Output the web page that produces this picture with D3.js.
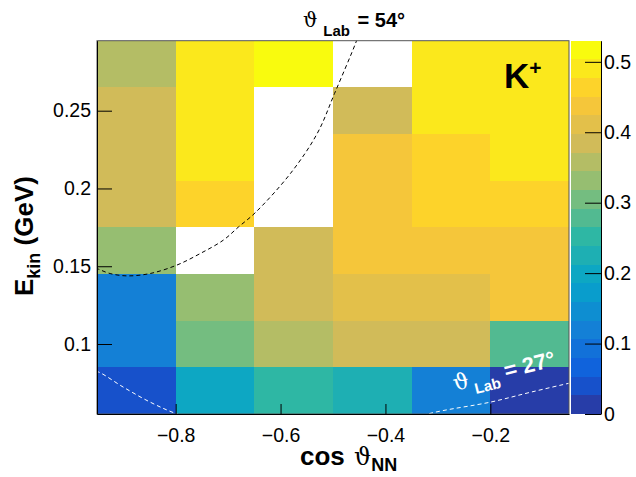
<!DOCTYPE html>
<html>
<head>
<meta charset="utf-8">
<script src="https://cdnjs.cloudflare.com/ajax/libs/d3/7.8.5/d3.min.js"></script>
<style>
body { margin: 0; background: #fff; }
svg { display: block; font-family: "Liberation Sans", Arial, sans-serif; }
</style>
</head>
<body>
<svg id="chart" width="636" height="477"></svg>
<script>
// bin edges
var xEdges = [-0.95, -0.8, -0.65, -0.5, -0.35, -0.2, -0.05];
var yEdges = [0.055, 0.085, 0.115, 0.145, 0.175, 0.205, 0.235, 0.265, 0.295];

// cell values, one array per E_kin row (bottom to top), null = empty bin
var row0 = [0.04, 0.20, 0.25, 0.225, 0.12, 0.015];
var row1 = [0.12, 0.305, 0.36, 0.385, 0.385, 0.28];
var row2 = [0.12, 0.33, 0.385, 0.41, 0.41, 0.437];
var row3 = [0.33, null, 0.385, 0.437, 0.437, 0.437];
var row4 = [0.385, 0.463, null, 0.437, 0.463, 0.463];
var row5 = [0.385, 0.49, null, 0.437, 0.463, 0.49];
var row6 = [0.385, 0.49, null, 0.385, 0.49, 0.49];
var row7 = [0.36, 0.49, 0.515, null, 0.49, 0.49];
var rows = [row0, row1, row2, row3, row4, row5, row6, row7];

var xTicks = [-0.8, -0.6, -0.4, -0.2];
var yTicks = [0.1, 0.15, 0.2, 0.25];
var zTicks = [0, 0.1, 0.2, 0.3, 0.4, 0.5];
var zMax = 0.53, nLevels = 20;

// constant lab angle lines, [cos, Ekin]
var curve54 = [[-0.965, 0.1505], [-0.947, 0.1481], [-0.925, 0.1453], [-0.893, 0.1438], [-0.849, 0.1453],
  [-0.798, 0.1507], [-0.753, 0.1582], [-0.709, 0.1668], [-0.68, 0.1753], [-0.648, 0.1845],
  [-0.581, 0.2097], [-0.53, 0.2354], [-0.497, 0.2611], [-0.457, 0.2933], [-0.45, 0.30]];
var curve27 = [[-0.965, 0.0835], [-0.947, 0.082], [-0.9, 0.0723], [-0.849, 0.0627], [-0.799, 0.0552],
  [-0.72, 0.047], [-0.6, 0.041], [-0.5, 0.040], [-0.4, 0.046], [-0.317, 0.0552],
  [-0.199, 0.0627], [-0.122, 0.0691], [-0.047, 0.075], [-0.03, 0.0762]];

// ROOT kBird palette
var birdStops = [0, 0.125, 0.25, 0.375, 0.5, 0.625, 0.75, 0.875, 1];
var birdR = [0.2082, 0.0592, 0.0780, 0.0232, 0.1802, 0.5301, 0.8186, 0.9956, 0.9764];
var birdG = [0.1664, 0.3599, 0.5041, 0.6419, 0.7178, 0.7492, 0.7328, 0.7862, 0.9832];
var birdB = [0.5293, 0.8684, 0.8385, 0.7914, 0.6425, 0.4662, 0.3499, 0.1968, 0.0539];

var birdColor = function(t) {
  var k = Math.min(7, Math.floor(t / 0.125));
  var f = (t - birdStops[k]) / 0.125;
  var c = function(a) { return Math.round(255 * (a[k] + f * (a[k + 1] - a[k]))); };
  return d3.rgb(c(birdR), c(birdG), c(birdB)).toString();
}

var levelColor = function(i) {
  var t = Math.floor((i + 0.99) * 255 / nLevels) / 254;
  return birdColor(t);
}

var valueColor = function(v) {
  var i = Math.min(nLevels - 1, Math.floor(v / zMax * nLevels));
  return levelColor(i);
}

var svg = d3.select("#chart");
var x = d3.scaleLinear().domain([-0.95, -0.05]).range([97, 569]);
var y = d3.scaleLinear().domain([0.055, 0.295]).range([414, 40.7]);
var z = d3.scaleLinear().domain([0, zMax]).range([414, 40.7]);

svg.append("defs").append("clipPath").attr("id", "plotclip")
  .append("rect").attr("x", 97).attr("y", 40.7).attr("width", 472).attr("height", 373.3);

// cells
var cells = [];
rows.forEach(function(r, ri) {
  r.forEach(function(v, ci) {
    if (v !== null) cells.push({r: ri, c: ci, v: v});
  });
});
svg.append("g").selectAll("rect").data(cells).enter().append("rect")
  .attr("x", function(d) { return x(xEdges[d.c]); })
  .attr("y", function(d) { return y(yEdges[d.r + 1]); })
  .attr("width", function(d) { return x(xEdges[d.c + 1]) - x(xEdges[d.c]); })
  .attr("height", function(d) { return y(yEdges[d.r]) - y(yEdges[d.r + 1]); })
  .attr("fill", function(d) { return valueColor(d.v); })
  .attr("shape-rendering", "crispEdges");

// kinematic lines
var line = d3.line().x(function(d) { return x(d[0]); }).y(function(d) { return y(d[1]); })
  .curve(d3.curveCatmullRom);
var lines = svg.append("g").attr("clip-path", "url(#plotclip)");
lines.append("path").attr("d", line(curve54)).attr("fill", "none")
  .attr("stroke", "#000").attr("stroke-width", 1).attr("stroke-dasharray", "4,3");
lines.append("path").attr("d", line(curve27)).attr("fill", "none")
  .attr("stroke", "#fff").attr("stroke-width", 1).attr("stroke-dasharray", "4,3");

// frame
svg.append("rect").attr("x", 97).attr("y", 40.7).attr("width", 472).attr("height", 373.3)
  .attr("fill", "none").attr("stroke", "#555").attr("stroke-width", 1);

// axes
var xAxis = svg.append("g").attr("transform", "translate(0,414)")
  .call(d3.axisBottom(x).tickValues(xTicks).tickSizeInner(-10).tickSizeOuter(0).tickPadding(14)
    .tickFormat(function(d) { return d3.format(".1f")(d).replace("-", "\u2212"); }));
var yAxis = svg.append("g").attr("transform", "translate(97,0)")
  .call(d3.axisLeft(y).tickValues(yTicks).tickSizeInner(-15).tickSizeOuter(0).tickPadding(6)
    .tickFormat(function(d) { return String(d); }));
[xAxis, yAxis].forEach(function(a) {
  a.select(".domain").attr("stroke", "#000");
  a.selectAll(".tick line").attr("stroke", "#000");
  a.selectAll("text").attr("font-size", 19.5).attr("fill", "#000")
    .attr("font-family", "Liberation Sans, Arial, sans-serif");
});

// color bar
var bands = d3.range(nLevels);
svg.append("g").selectAll("rect").data(bands).enter().append("rect")
  .attr("x", 571).attr("width", 30)
  .attr("y", function(i) { return z((i + 1) * zMax / nLevels); })
  .attr("height", function(i) { return z(i * zMax / nLevels) - z((i + 1) * zMax / nLevels); })
  .attr("fill", function(i) { return levelColor(i); })
  .attr("shape-rendering", "crispEdges");
var zAxis = svg.append("g").attr("transform", "translate(601,0)")
  .call(d3.axisRight(z).tickValues(zTicks).tickSizeInner(-16).tickSizeOuter(0).tickPadding(3)
    .tickFormat(function(d) { return String(d); }));
zAxis.select(".domain").attr("stroke", "#000");
zAxis.selectAll(".tick line").attr("stroke", "#000");
zAxis.selectAll("text").attr("font-size", 19.5).attr("fill", "#000")
  .attr("font-family", "Liberation Sans, Arial, sans-serif");

// axis titles
var yt = svg.append("text").attr("transform", "translate(33,296) rotate(-90)")
  .attr("font-weight", "bold").attr("font-size", 26);
yt.append("tspan").text("E");
yt.append("tspan").attr("font-size", 18).attr("dy", 7).text("kin");
yt.append("tspan").attr("dy", -7).text(" (GeV)");

var xt = svg.append("text").attr("x", 300).attr("y", 465).attr("font-size", 26);
xt.append("tspan").attr("font-weight", "bold").text("cos ");
xt.append("tspan").attr("font-family", "DejaVu Serif").attr("font-size", 24).attr("dx", 2).text("\u03d1");
xt.append("tspan").attr("font-weight", "bold").attr("font-size", 18).attr("dy", 6).text("NN");

// labels
var t54 = svg.append("text").attr("x", 303).attr("y", 27).attr("font-size", 20).attr("font-weight", "bold");
t54.append("tspan").attr("font-family", "DejaVu Serif").attr("font-weight", "normal").text("\u03d1");
t54.append("tspan").attr("font-size", 15).attr("dy", 9).attr("dx", 6).text("Lab");
t54.append("tspan").attr("dy", -9).attr("dx", 2).text(" = 54\u00b0");

var tk = svg.append("text").attr("x", 504).attr("y", 88).attr("font-size", 35).attr("font-weight", "bold");
tk.append("tspan").text("K");
tk.append("tspan").attr("font-size", 21).attr("dy", -13).text("+");

var t27 = svg.append("text").attr("transform", "translate(455,391) rotate(-14)")
  .attr("font-size", 22).attr("font-weight", "bold").attr("fill", "#fff");
t27.append("tspan").attr("font-family", "DejaVu Serif").attr("font-weight", "normal").text("\u03d1");
t27.append("tspan").attr("font-size", 15).attr("dy", 8).attr("dx", 4).text("Lab");
t27.append("tspan").attr("dy", -8).text(" = 27\u00b0");
</script>
</body>
</html>
